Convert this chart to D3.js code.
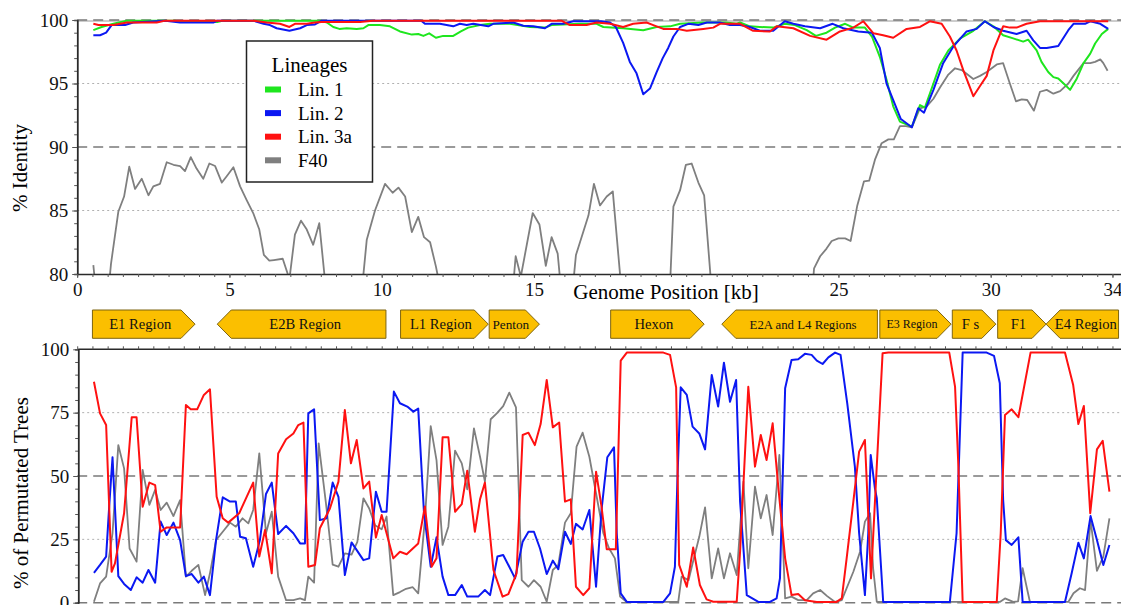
<!DOCTYPE html>
<html>
<head>
<meta charset="utf-8">
<script src="https://cdn.jsdelivr.net/npm/d3@7"></script>
<style>
  body { margin: 0; background: #fff; }
  svg text { font-family: "Liberation Serif", "DejaVu Serif", serif !important; }
</style>
</head>
<body>
<svg id="chart" width="1121" height="605"></svg>
<script>
// ---- data: [kb, value] vertices ----
var lineages = ["Lin. 1", "Lin. 2", "Lin. 3a", "F40"];
var lineageColors = ["#1ee61e", "#0b18f2", "#ff1111", "#7f7f7f"];

// top panel: % identity
var topLin1 = [[0.53,99.2],[0.8,99.45],[1.19,99.7],[1.63,99.95],[3.2,99.95],[3.5,99.85],[4.6,99.85],[4.8,99.95],[8.0,99.95],[8.2,99.8],[8.41,99.45],[8.61,99.3],[8.85,99.35],[9.18,99.3],[9.4,99.35],[9.56,99.6],[9.94,99.6],[10.27,99.5],[10.6,99.1],[10.99,98.85],[11.2,98.9],[11.37,98.75],[11.56,98.95],[11.78,98.6],[12.02,98.75],[12.35,98.75],[12.6,99.1],[12.84,99.4],[13.23,99.6],[13.56,99.7],[14.21,99.7],[14.87,99.45],[15.36,99.4],[15.58,99.6],[16.5,99.7],[17.06,99.7],[17.28,99.45],[17.93,99.35],[18.59,99.2],[19.03,99.45],[19.47,99.5],[19.8,99.7],[20.56,99.8],[21.3,99.8],[21.66,99.7],[21.77,99.8],[22.09,99.5],[22.42,99.45],[22.86,99.4],[23.24,99.7],[23.57,99.6],[23.96,99.2],[24.26,98.75],[24.61,99.0],[24.89,99.4],[25.22,99.7],[25.49,99.4],[25.87,99.4],[26.1,98.7],[26.36,97.1],[26.58,95.3],[26.8,93.2],[27.02,92.0],[27.41,91.6],[27.68,93.3],[27.84,93.1],[28.12,95.0],[28.34,96.5],[28.61,97.6],[29.0,98.55],[29.43,99.15],[29.81,99.9],[30.09,99.5],[30.41,98.8],[30.74,98.55],[31.07,98.3],[31.23,98.45],[31.51,97.6],[31.67,96.7],[31.89,95.9],[32.06,95.5],[32.22,95.4],[32.44,94.9],[32.61,94.5],[32.83,95.4],[33.05,96.6],[33.27,97.35],[33.43,98.15],[33.65,98.9],[33.86,99.3]];
var topLin2 = [[0.53,98.8],[0.75,98.8],[0.95,99.0],[1.13,99.6],[1.57,99.6],[1.84,99.8],[2.9,99.95],[3.38,99.8],[4.47,99.8],[4.6,99.95],[5.78,99.95],[6.12,99.7],[6.33,99.6],[6.55,99.35],[6.97,99.15],[7.32,99.35],[7.54,99.6],[7.81,99.65],[8.03,99.95],[11.3,99.95],[11.42,99.7],[11.91,99.7],[12.35,99.5],[12.57,99.7],[12.79,99.6],[13.01,99.7],[13.5,99.5],[13.66,99.7],[14.32,99.8],[14.65,99.55],[14.98,99.5],[15.36,99.35],[15.58,99.7],[15.96,99.7],[16.29,99.9],[17.2,99.9],[17.5,99.8],[17.69,99.45],[17.93,98.2],[18.15,96.7],[18.37,95.8],[18.59,94.15],[18.81,94.6],[19.03,95.9],[19.23,97.0],[19.41,97.8],[19.58,98.7],[19.8,99.45],[20.07,99.7],[20.4,99.6],[20.68,99.8],[21.1,99.8],[21.44,99.6],[21.77,99.6],[22.09,99.45],[22.42,99.15],[22.86,99.15],[23.24,99.9],[23.52,99.7],[23.9,99.5],[24.4,99.35],[24.81,99.7],[25.16,99.35],[25.65,99.1],[26.1,99.0],[26.36,97.8],[26.58,95.0],[26.8,93.7],[27.05,92.2],[27.41,91.55],[27.62,93.05],[27.81,92.7],[28.12,94.5],[28.44,96.6],[28.77,97.9],[29.21,99.1],[29.54,99.3],[29.81,99.9],[30.09,99.45],[30.41,99.15],[30.85,98.9],[31.18,99.15],[31.4,98.4],[31.62,97.8],[31.84,97.8],[32.22,97.95],[32.55,99.2],[32.72,99.7],[33.1,99.7],[33.27,99.9],[33.6,99.7],[33.86,99.3]];
var topLin3a = [[0.53,99.7],[0.7,99.6],[1.19,99.6],[1.63,99.8],[2.61,99.8],[2.9,99.95],[5.78,99.95],[6.22,99.8],[6.66,99.7],[6.97,99.45],[7.15,99.7],[7.54,99.7],[7.81,99.8],[8.03,99.85],[9.29,99.85],[9.7,99.95],[15.9,99.95],[16.18,99.6],[16.73,99.6],[17.06,99.8],[17.5,99.7],[17.93,99.45],[18.26,99.7],[18.7,99.8],[18.92,99.6],[19.25,99.3],[19.69,99.3],[20.02,99.15],[20.56,99.3],[20.89,99.4],[21.11,99.7],[21.77,99.7],[22.2,99.15],[22.75,99.1],[22.97,99.5],[23.52,99.35],[24.07,98.75],[24.61,98.45],[25.05,99.1],[25.49,99.4],[25.82,99.9],[26.15,98.95],[26.47,98.8],[26.8,98.6],[27.24,99.3],[27.68,99.45],[28.0,99.9],[28.39,99.7],[28.66,98.7],[28.88,97.6],[29.1,96.05],[29.43,94.0],[29.65,94.8],[29.87,95.6],[30.09,97.6],[30.41,99.5],[30.63,99.4],[30.85,99.4],[31.18,99.7],[31.62,99.9],[33.86,99.9]];
var topF40 = [[0.53,80.7],[0.64,78],[1.0,78],[1.11,80.8],[1.35,84.9],[1.54,86.1],[1.71,88.45],[1.90,86.7],[2.12,87.5],[2.34,86.2],[2.50,86.9],[2.72,87.1],[2.94,88.8],[3.16,88.6],[3.38,88.5],[3.54,88.1],[3.73,89.2],[3.92,88.3],[4.14,87.5],[4.34,88.7],[4.53,88.5],[4.75,87.2],[4.91,87.7],[5.13,88.4],[5.35,86.9],[5.57,85.8],[5.78,84.8],[5.98,83.5],[6.13,81.5],[6.31,81.05],[6.46,81.1],[6.75,81.2],[6.97,79.6],[7.15,83.1],[7.35,84.2],[7.54,83.5],[7.75,82.3],[7.95,84.0],[8.2,78],[9.32,78],[9.51,82.7],[9.78,85.0],[10.11,87.1],[10.36,86.4],[10.55,86.8],[10.77,86.1],[10.99,83.3],[11.2,84.5],[11.39,82.9],[11.59,82.5],[11.78,80.6],[12.0,78],[14.28,78],[14.4,81.4],[14.57,79.8],[14.96,84.8],[15.18,83.9],[15.39,80.65],[15.58,82.9],[15.78,81.6],[15.92,78],[16.24,78],[16.38,81.5],[16.79,84.6],[16.97,87.1],[17.17,85.4],[17.39,86.1],[17.59,86.5],[17.9,78],[19.45,78],[19.58,85.3],[19.8,86.6],[19.99,88.6],[20.18,88.7],[20.4,87.2],[20.59,86.2],[20.86,78],[24.12,78],[24.2,80.45],[24.4,81.4],[24.61,82.0],[24.78,82.6],[25.0,82.8],[25.22,82.8],[25.4,82.6],[25.62,85.4],[25.84,87.3],[26.01,87.35],[26.2,89.0],[26.42,90.3],[26.64,90.6],[26.82,90.6],[27.02,91.65],[27.22,91.65],[27.41,91.55],[27.68,93.05],[27.9,93.2],[28.12,93.8],[28.34,94.7],[28.61,95.7],[28.83,96.2],[29.05,96.06],[29.43,95.35],[29.65,95.6],[29.87,95.9],[30.2,96.5],[30.41,96.6],[30.63,95.0],[30.83,93.6],[31.02,93.75],[31.2,93.7],[31.42,92.86],[31.62,94.35],[31.84,94.5],[32.06,94.2],[32.28,94.4],[32.55,95.0],[32.72,95.6],[33.05,96.6],[33.27,96.6],[33.43,96.7],[33.6,96.9],[33.7,96.6],[33.84,96.0]];

// bottom panel: % of permutated trees
var botLin2 = [[0.55,11.8],[0.75,14.9],[0.95,18.2],[1.05,37.9],[1.16,57.4],[1.35,10.5],[1.54,7.4],[1.76,5],[1.95,10],[2.15,7.9],[2.34,12.9],[2.56,7.9],[2.74,32],[2.94,26.7],[3.16,31.6],[3.38,24.7],[3.57,10.5],[3.76,11.3],[3.98,7.9],[4.16,10.3],[4.36,3],[4.56,24.7],[4.78,41.6],[5.02,39.9],[5.21,39.9],[5.35,26],[5.54,25.4],[5.78,14.2],[6.0,24.7],[6.2,42.9],[6.39,47.4],[6.6,27.1],[6.86,30.3],[7.1,27.4],[7.32,23.4],[7.48,23.4],[7.59,74.7],[7.78,76.3],[7.97,32.6],[8.19,33.3],[8.39,47.4],[8.58,41.8],[8.79,10.9],[9.01,23.8],[9.4,16.8],[9.59,17.5],[9.81,43.8],[10.0,35.9],[10.16,35.9],[10.4,83.3],[10.6,78.7],[10.84,77.4],[11.04,75.4],[11.2,76.6],[11.39,35.3],[11.61,14.2],[11.8,25.8],[12.0,10.3],[12.19,3],[12.41,3],[12.63,7],[12.81,2.4],[13.17,2.4],[13.39,5],[13.56,3],[13.8,18.2],[13.99,18.8],[14.19,14.2],[14.38,9.6],[14.63,24.1],[14.82,28],[15.0,28],[15.2,21.4],[15.42,11.3],[15.62,16.6],[15.8,13.2],[16.02,28],[16.21,23.2],[16.38,31.1],[16.6,28.9],[16.82,36.6],[17.04,6.3],[17.22,36.6],[17.41,57.4],[17.63,61.3],[17.72,27.4],[17.85,3.7],[18.05,0.3],[19.25,0.3],[19.47,3.7],[19.63,14.2],[19.71,47.8],[19.82,85],[20.02,82],[20.21,69.5],[20.43,66.8],[20.62,60.5],[20.84,89.9],[21.05,77.4],[21.24,94.7],[21.44,79.3],[21.64,87.9],[21.77,40],[21.99,3],[22.37,0.3],[22.75,0.3],[22.97,1.7],[23.08,9.6],[23.25,84.6],[23.46,95.8],[23.68,96.1],[23.9,98.2],[24.12,97.8],[24.29,95.5],[24.48,94.2],[24.67,96.8],[24.89,98.7],[25.07,97.8],[25.29,78.7],[25.54,53.7],[25.68,27.4],[25.87,3],[25.98,27.4],[26.06,58.3],[26.2,45],[26.26,41.2],[26.47,0.3],[28.66,0.3],[28.88,27.4],[28.99,66.8],[29.08,98.7],[29.87,98.7],[30.11,97.4],[30.3,86.6],[30.41,40.5],[30.5,24.7],[30.69,22.8],[30.91,25.8],[31.05,0.3],[32.44,0.3],[32.66,11.6],[32.88,23.7],[33.06,17.5],[33.28,34.2],[33.49,24.7],[33.7,14.9],[33.9,22.8]];
var botLin3a = [[0.55,87.2],[0.75,74.7],[0.95,70.1],[1.13,12.2],[1.24,15.5],[1.54,35.3],[1.79,73.2],[1.95,73.2],[2.15,37.9],[2.37,47.4],[2.56,46.4],[2.74,28],[2.94,29.7],[3.38,29.7],[3.57,78],[3.73,76.3],[3.94,76.3],[4.16,82],[4.36,84.2],[4.58,41.8],[4.78,33.3],[4.96,31.6],[5.32,35.3],[5.78,47.4],[5.98,18.2],[6.17,28.7],[6.39,11.6],[6.6,58.9],[6.86,64.5],[7.1,66.8],[7.26,70.1],[7.43,71.1],[7.59,14.2],[7.81,14.9],[7.97,29.4],[8.3,37.2],[8.58,47.8],[8.79,76],[8.99,55],[9.18,64.2],[9.4,45.1],[9.59,47.8],[9.81,25.7],[10.0,34.6],[10.38,17.5],[10.6,20.1],[10.82,19.1],[11.2,23.4],[11.42,38],[11.64,14.2],[11.8,17.5],[12.0,65.3],[12.19,65.3],[12.41,35.9],[12.63,38.9],[12.81,52.1],[13.06,28],[13.23,40.8],[13.39,47.4],[13.67,12.9],[13.97,2.4],[14.16,3.4],[14.43,11.6],[14.63,66.2],[14.82,67.1],[15.03,62.2],[15.22,70.5],[15.42,87.9],[15.62,69.2],[15.83,71.1],[16.02,39.9],[16.21,40.8],[16.38,6.3],[16.62,3],[16.82,5.7],[17.04,51.7],[17.22,37.9],[17.39,21.1],[17.69,21.1],[17.85,95.5],[18.05,98.7],[19.25,98.7],[19.47,97.8],[19.67,85],[19.77,14.9],[20.02,6.3],[20.23,21.8],[20.45,7],[20.67,1.3],[20.89,0.4],[21.66,0.4],[21.77,20.1],[22.04,85.2],[22.26,53.7],[22.45,66.2],[22.64,56.3],[22.84,70.8],[23.02,46.4],[23.25,17.5],[23.46,3],[23.68,3.4],[23.9,1],[24.29,0.3],[24.94,0.3],[25.11,1.7],[25.27,17.5],[25.49,39.9],[25.68,59.6],[25.87,64.2],[26.07,9.6],[26.45,98.4],[26.64,98.7],[28.64,98.7],[28.83,85.3],[28.94,53.7],[29.08,0.3],[30.2,0.3],[30.33,27.4],[30.47,74.1],[30.69,76.3],[30.91,73.2],[31.31,98.7],[32.44,98.7],[32.71,85.9],[32.88,70.5],[33.06,77.6],[33.27,35.3],[33.49,60.5],[33.68,63.9],[33.9,43.8]];
var botF40 = [[0.55,0.4],[0.75,7.6],[0.95,10.3],[1.16,27.4],[1.35,62.2],[1.54,53],[1.72,21.4],[1.95,16.2],[2.15,52.4],[2.37,38.6],[2.56,44.5],[2.74,36.6],[2.94,39.5],[3.16,34.2],[3.38,40.5],[3.57,10.3],[3.76,12.6],[3.98,14.9],[4.2,3],[4.36,11.6],[4.56,24.7],[4.78,28],[5.02,31.6],[5.21,30],[5.43,33.3],[5.62,31.3],[5.78,36.6],[5.98,58.9],[6.2,27.4],[6.39,35.9],[6.6,10.3],[6.86,1],[7.1,1],[7.32,1.7],[7.48,1],[7.59,10.3],[7.78,7.9],[7.93,62.9],[8.17,39.2],[8.39,15],[8.58,14.2],[8.79,19.5],[9.01,19],[9.2,24],[9.4,41.2],[9.59,37.2],[9.78,30.6],[10.0,29],[10.16,34],[10.38,3],[10.6,4.2],[10.8,5.5],[11.02,6.1],[11.2,3.7],[11.42,33],[11.61,69.7],[11.8,56.3],[12.0,22.8],[12.19,30],[12.41,60],[12.63,55],[12.81,44.7],[13.03,68.8],[13.23,57.6],[13.39,47.8],[13.58,72.4],[13.78,74.7],[13.99,77.6],[14.19,82.9],[14.41,77.1],[14.6,8.9],[14.82,6.3],[15.0,8.9],[15.22,6.3],[15.42,0.4],[15.62,12.9],[15.8,14.9],[16.02,31.6],[16.21,35.3],[16.4,61.6],[16.6,67.1],[16.82,57.6],[17.04,43.2],[17.28,27.4],[17.47,21.4],[17.66,17.5],[17.83,2.4],[18.05,0.3],[19.74,0.3],[19.85,10.3],[20.08,8.9],[20.21,15.5],[20.43,26],[20.62,37.6],[20.84,9.6],[21.05,21.4],[21.24,9.6],[21.44,19.5],[21.66,10.9],[21.88,47.8],[22.04,13.6],[22.26,45.8],[22.45,33.3],[22.64,42.5],[22.84,26.7],[23.06,58.3],[23.25,1.7],[23.46,2.4],[23.68,1],[23.96,1],[24.17,3.7],[24.4,5],[24.63,2.6],[24.89,0.3],[25.11,1],[25.49,12.2],[25.71,20.1],[25.87,32],[26.04,35.3],[26.14,13.6],[26.26,0.3],[30.3,0.3],[30.47,1.7],[30.74,0.3],[30.9,0.5],[31.05,13.6],[31.18,6.3],[31.29,0.3],[32.55,0.3],[32.72,3.7],[32.93,5.7],[33.1,5],[33.28,32.6],[33.49,12.6],[33.7,18.2],[33.9,33.3]];

// genome regions (kb)
var geneNames  = ["E1 Region", "E2B Region", "L1 Region", "Penton", "Hexon", "E2A and L4 Regions", "E3 Region", "F s", "F1", "E4 Region"];
var geneStart  = [0.5, 4.6, 10.62, 13.53, 17.52, 21.17, 26.36, 28.74, 30.23, 31.82];
var geneEnd    = [3.87, 10.14, 13.5, 15.18, 20.59, 26.28, 28.7, 30.17, 31.82, 34.2];
var geneStrand = [1, -1, 1, 1, 1, -1, 1, 1, 1, -1];

var xTickLabels = [0, 5, 10, 15, 25, 30, 34];
var topTicks = [80, 85, 90, 95, 100];
var botTicks = [0, 25, 50, 75, 100];

// ---- drawing ----
var serif = "'Liberation Serif', 'DejaVu Serif', serif";
var svg = d3.select("#chart"),
    width = +svg.attr("width"),
    height = +svg.attr("height");
svg.attr("font-family", serif);

var x = d3.scaleLinear().domain([0, 34.3]).range([77.2, 1121.6]);
var yTop = d3.scaleLinear().domain([80, 100]).range([274, 20]);
var yBot = d3.scaleLinear().domain([0, 100]).range([602.7, 349.3]);

var defs = svg.append("defs");
defs.append("clipPath").attr("id", "clipTop")
  .append("rect").attr("x", x(0)).attr("y", 0).attr("width", width - x(0)).attr("height", yTop(80));
defs.append("clipPath").attr("id", "clipBot")
  .append("rect").attr("x", x(0)).attr("y", yBot(100) - 2).attr("width", width - x(0)).attr("height", yBot(0) - yBot(100) + 4);

function grid(y, v, dashed) {
  svg.append("line")
    .attr("x1", x(0)).attr("x2", width)
    .attr("y1", y(v)).attr("y2", y(v))
    .attr("stroke", dashed ? "#7a7a7a" : "#b0b0b0")
    .attr("stroke-width", dashed ? 1.4 : 1)
    .attr("stroke-dasharray", dashed ? "10,6" : "2,3");
}

// top grid
svg.append("line").attr("x1", x(0)).attr("x2", width)
  .attr("y1", yTop(100) + 1).attr("y2", yTop(100) + 1)
  .attr("stroke", "#9a9a9a").attr("stroke-width", 1);
grid(yTop, 100, true);
grid(yTop, 95, false);
grid(yTop, 90, true);
grid(yTop, 85, false);

// bottom grid
grid(yBot, 75, false);
grid(yBot, 50, true);
grid(yBot, 25, false);
grid(yBot, 0, true);

var topSeries = [topF40, topLin1, topLin2, topLin3a];
var topColors = [lineageColors[3], lineageColors[0], lineageColors[1], lineageColors[2]];
var botSeries = [botF40, botLin2, botLin3a];
var botColors = [lineageColors[3], lineageColors[1], lineageColors[2]];

var lineTop = d3.line().x(function(d) { return x(d[0]); }).y(function(d) { return yTop(d[1]); });
var lineBot = d3.line().x(function(d) { return x(d[0]); }).y(function(d) { return yBot(d[1]); });

svg.append("g").attr("clip-path", "url(#clipTop)")
  .selectAll("path")
  .data(topSeries)
  .enter().append("path")
    .attr("d", lineTop)
    .attr("fill", "none")
    .attr("stroke", function(d, i) { return topColors[i]; })
    .attr("stroke-width", function(d, i) { return i == 0 ? 1.8 : 2; })
    .attr("stroke-linejoin", "round");

svg.append("g").attr("clip-path", "url(#clipBot)")
  .selectAll("path")
  .data(botSeries)
  .enter().append("path")
    .attr("d", lineBot)
    .attr("fill", "none")
    .attr("stroke", function(d, i) { return botColors[i]; })
    .attr("stroke-width", function(d, i) { return i == 0 ? 1.8 : 2; })
    .attr("stroke-linejoin", "round");

// axes
function styleAxis(g) {
  g.attr("font-family", serif).attr("font-size", 19);
  g.selectAll(".domain").attr("stroke", "#2a2a2a").attr("stroke-width", 1.5);
  g.selectAll(".tick line").attr("stroke", "#555");
  g.selectAll("text").attr("fill", "#111");
}

var minorKb = d3.range(0, 34.01, 0.5);

// top panel left axis
svg.append("g").attr("transform", "translate(" + x(0) + ",0)")
  .call(d3.axisLeft(yTop).tickValues(d3.range(80, 100.01, 1)).tickSize(3).tickFormat(""))
  .call(styleAxis);
svg.append("g").attr("transform", "translate(" + x(0) + ",0)")
  .call(d3.axisLeft(yTop).tickValues(topTicks).tickSize(5).tickPadding(4).tickSizeOuter(0))
  .call(styleAxis);

// top panel bottom axis
svg.append("g").attr("transform", "translate(0," + yTop(80) + ")")
  .call(d3.axisBottom(x).tickValues(minorKb).tickSize(3).tickFormat("").tickSizeOuter(0))
  .call(styleAxis);
svg.append("g").attr("transform", "translate(0," + yTop(80) + ")")
  .call(d3.axisBottom(x).tickValues(xTickLabels).tickSize(4).tickPadding(5).tickSizeOuter(0))
  .call(styleAxis)
  .call(function(g) { g.select(".domain").remove(); });

svg.append("text")
  .attr("x", 666).attr("y", 299)
  .attr("text-anchor", "middle")
  .attr("font-size", 21)
  .text("Genome Position [kb]");

svg.append("text")
  .attr("transform", "translate(27,168)rotate(-90)")
  .attr("text-anchor", "middle")
  .attr("font-size", 21)
  .text("% Identity");

// bottom panel axes
svg.append("g").attr("transform", "translate(" + (x(0) + 1) + ",0)")
  .call(d3.axisLeft(yBot).tickValues(d3.range(0, 100.01, 5)).tickSize(3).tickFormat(""))
  .call(styleAxis);
svg.append("g").attr("transform", "translate(" + (x(0) + 1) + ",0)")
  .call(d3.axisLeft(yBot).tickValues(botTicks).tickSize(5).tickPadding(4).tickSizeOuter(0))
  .call(styleAxis);
svg.append("g").attr("transform", "translate(0," + yBot(100) + ")")
  .call(d3.axisTop(x).tickValues(minorKb).tickSize(3).tickFormat("").tickSizeOuter(0))
  .call(styleAxis)
  .call(function(g) { g.select(".domain").attr("d", "M" + (x(0) + 1) + ",0H" + width); });

svg.append("text")
  .attr("transform", "translate(28,493)rotate(-90)")
  .attr("text-anchor", "middle")
  .attr("font-size", 21)
  .text("% of Permutated Trees");

// genome region arrows
var genes = geneNames.map(function(n, i) {
  return { name: n, start: geneStart[i], end: geneEnd[i], strand: geneStrand[i] };
});
var gTop = 310, gBot = 338.3, gMid = (gTop + gBot) / 2, tip = 14;
// the figure uses smaller type in a few of the boxes
var labelSize = { "E2A and L4 Regions": 12.8, "E3 Region": 12, "Penton": 13.2 };

var gene = svg.append("g").selectAll("g")
  .data(genes)
  .enter().append("g");

gene.append("path")
  .attr("d", function(d) {
    var x0 = x(d.start), x1 = Math.min(x(d.end), width + 20);
    if (d.strand > 0) {
      var xb = x1 - tip;
      return "M" + x0 + "," + gTop + "H" + xb + "L" + x1 + "," + gMid + "L" + xb + "," + gBot + "H" + x0 + "Z";
    }
    var xa = x0 + tip;
    return "M" + x1 + "," + gTop + "H" + xa + "L" + x0 + "," + gMid + "L" + xa + "," + gBot + "H" + x1 + "Z";
  })
  .attr("fill", "#fbbf00")
  .attr("stroke", "#7d6410")
  .attr("stroke-width", 1);

gene.append("text")
  .attr("x", function(d) { return (x(d.start) + Math.min(x(d.end), width)) / 2 - d.strand * tip / 4; })
  .attr("y", gMid)
  .attr("dy", "0.35em")
  .attr("text-anchor", "middle")
  .attr("font-size", function(d) { return labelSize[d.name] || 14.6; })
  .attr("fill", "#111")
  .text(function(d) { return d.name; });

// legend
var legend = svg.append("g").attr("transform", "translate(246.5,41)");
legend.append("rect")
  .attr("width", 126).attr("height", 141)
  .attr("fill", "#fff").attr("stroke", "#222").attr("stroke-width", 1.5);
legend.append("text")
  .attr("x", 63).attr("y", 31)
  .attr("text-anchor", "middle")
  .attr("font-size", 21)
  .text("Lineages");

var item = legend.selectAll("g.item")
  .data(lineages)
  .enter().append("g")
    .attr("class", "item")
    .attr("transform", function(d, i) { return "translate(0," + (48.5 + i * 23.6) + ")"; });
item.append("rect")
  .attr("x", 18.5).attr("y", -3).attr("width", 16).attr("height", 6)
  .attr("fill", function(d, i) { return lineageColors[i]; });
item.append("text")
  .attr("x", 51.5).attr("dy", "0.35em")
  .attr("font-size", 19)
  .text(function(d) { return d; });
</script>
</body>
</html>
